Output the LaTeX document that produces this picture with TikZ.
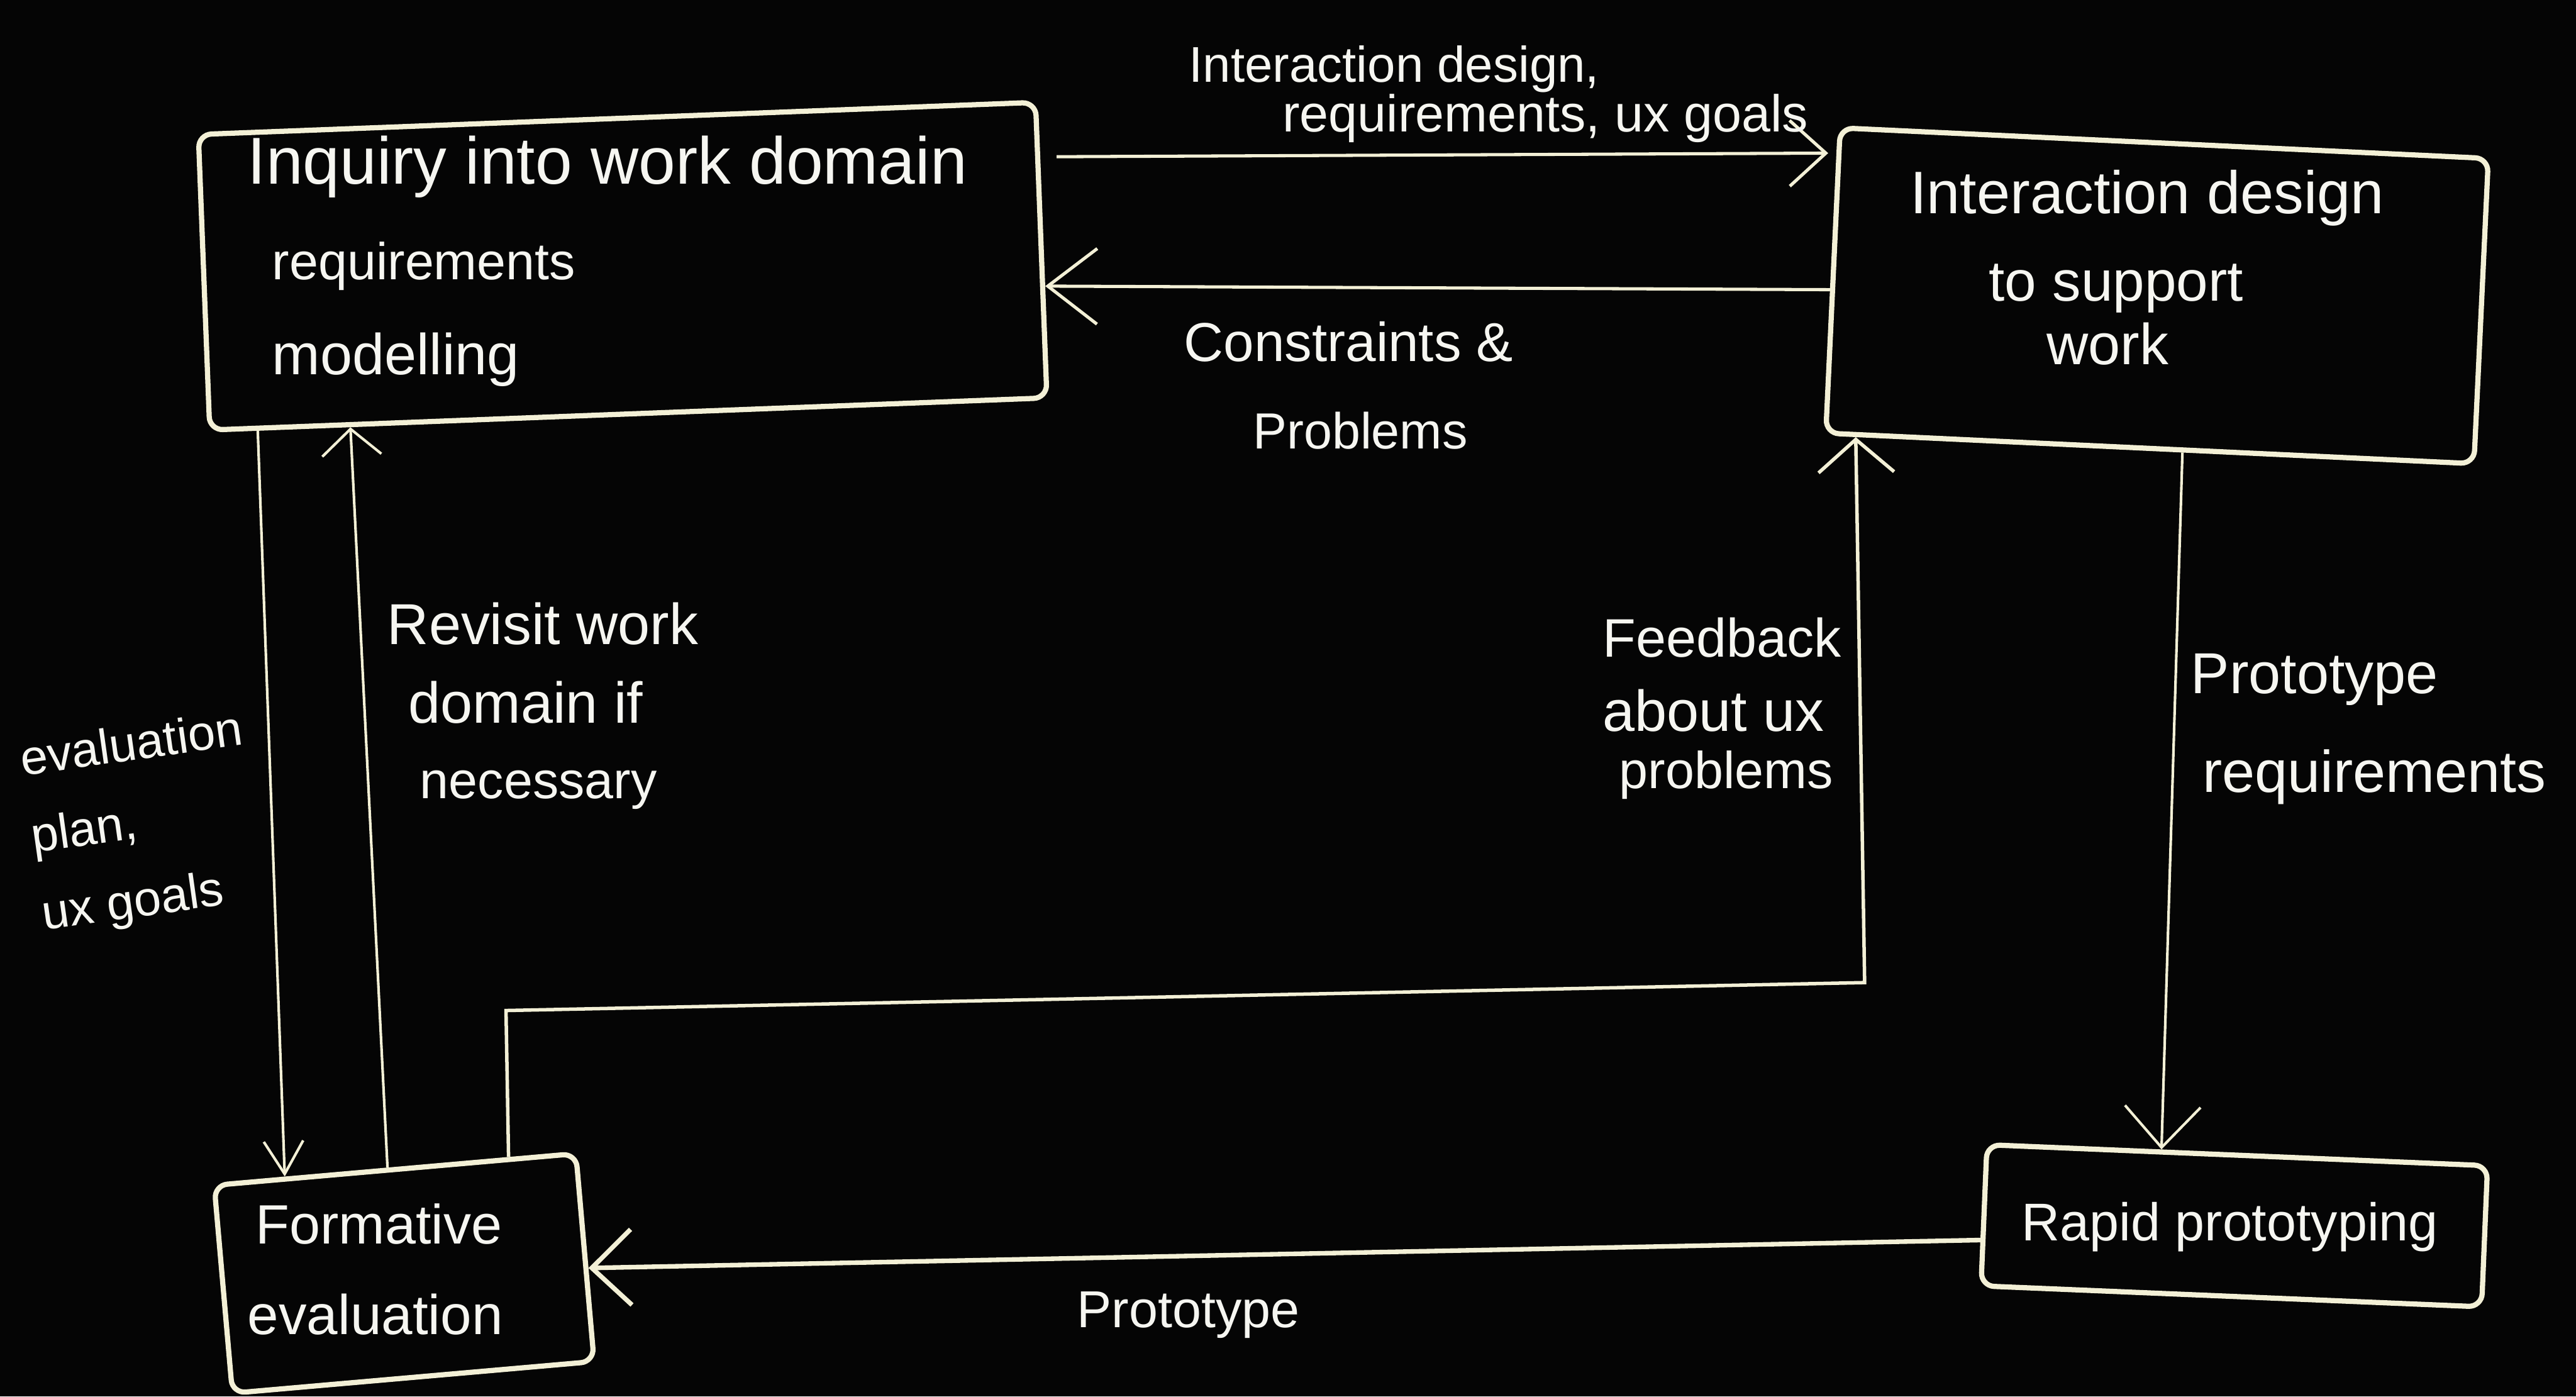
\documentclass[tikz,border=0pt]{standalone}
\usepackage{fontspec}
\setmainfont{Liberation Sans}
\usetikzlibrary{arrows.meta,calc}
\definecolor{board}{HTML}{050505}
\definecolor{chalk}{HTML}{F3F0D6}
\definecolor{ink}{HTML}{F6F6F1}
\newcommand{\fs}[1]{\fontsize{#1}{#1}\selectfont}
\begin{document}
\begin{tikzpicture}[x=0.1mm,y=-0.1mm,
  stagebox/.style={draw=chalk, line width=0.9pt, rounded corners=0.8mm, inner sep=0pt},
  flow/.style={draw=chalk, line width=0.55pt, -{Straight Barb[length=2.2mm,width=4mm]}},
  txt/.style={text=ink, inner sep=0pt, anchor=base west}]

% canvas
\fill[board] (0,0) rectangle (1568,850);
\useasboundingbox (0,0) rectangle (1568,850);

% stages
\node[stagebox, minimum width=51mm, minimum height=18mm, rotate=2.2] (b1) at (379,162) {};
\node[stagebox, minimum width=39.5mm, minimum height=18.6mm, rotate=-2.7] (b2) at (1313,180) {};
\node[stagebox, minimum width=22.1mm, minimum height=12.7mm, rotate=5] (b3) at (246,775) {};
\node[stagebox, minimum width=30.5mm, minimum height=8.6mm, rotate=-2.4] (b4) at (1360,746) {};

% stage texts
\node[txt, font=\fs{11.5}] (t1a) at (150,112) {Inquiry into work domain};
\node[txt, font=\fs{9}] (t1b) at (165,170) {requirements};
\node[txt, font=\fs{10}] (t1c) at (165,228) {modelling};

\node[txt, font=\fs{10.4}] (t2a) at (1162,130) {Interaction design};
\node[txt, font=\fs{9.9}] (t2b) at (1210,183) {to support};
\node[txt, font=\fs{10}] (t2c) at (1245,222) {work};

\node[txt, font=\fs{9.6}] (t3a) at (155,757) {Formative};
\node[txt, font=\fs{9.7}] (t3b) at (150,812) {evaluation};

\node[txt, font=\fs{9.2}] (t4) at (1230,755) {Rapid prototyping};

% connectors
\draw[flow, shorten <=1mm, shorten >=0.5mm]
  ($(b1.north east)!0.19!(b1.south east)$) -- ($(b2.north west)!0.09!(b2.south west)$);
\draw[flow, -{Straight Barb[length=3mm,width=4.6mm]}]
  ($(b2.north west)!0.53!(b2.south west)$) -- ($(b1.north east)!0.62!(b1.south east)$);
\draw[flow, line width=0.45pt, -{Straight Barb[length=2mm,width=2.4mm]}]
  ($(b1.south west)!0.06!(b1.south east)$) -- ($(b3.north west)!0.2!(b3.north east)$);
\draw[flow, line width=0.45pt, -{Straight Barb[length=1.6mm,width=3.6mm]}]
  ($(b3.north west)!0.48!(b3.north east)$) -- ($(b1.south west)!0.17!(b1.south east)$);
\coordinate (fb1) at (308,615);
\coordinate (fb2) at (1135,598);
\draw[flow, line width=0.6pt, -{Straight Barb[length=2mm,width=4.6mm]}]
  ($(b3.north west)!0.81!(b3.north east)$) -- (fb1) -- (fb2) -- ($(b2.south west)!0.05!(b2.south east)$);
\draw[flow, line width=0.45pt, -{Straight Barb[length=2.5mm,width=4.6mm]}]
  ($(b2.south west)!0.55!(b2.south east)$) -- ($(b4.north west)!0.35!(b4.north east)$);
\draw[flow, line width=0.8pt, -{Straight Barb[length=2.4mm,width=4.6mm]}]
  ($(b4.north west)!0.67!(b4.south west)$) -- ($(b3.north east)!0.55!(b3.south east)$);

% connector labels
\node[txt, font=\fs{8.7}] (l1a) at (723,50) {Interaction design,};
\node[txt, font=\fs{9}] (l1b) at (780,80) {requirements, ux goals};

\node[txt, font=\fs{9.5}] (l2a) at (720,220) {Constraints \&};
\node[txt, font=\fs{8.8}] (l2b) at (762,273) {Problems};

\node[text=ink, inner sep=0pt, anchor=north west, rotate=8, align=left,
      font=\fontsize{8.5}{13.5}\selectfont] (l3) at (10,450) {evaluation\\plan,\\ux goals};

\node[txt, font=\fs{10}] (l4a) at (235,392) {Revisit work};
\node[txt, font=\fs{10}] (l4b) at (248,440) {domain if};
\node[txt, font=\fs{9}] (l4c) at (255,486) {necessary};

\node[txt, font=\fs{9.4}] (l5a) at (975,400) {Feedback};
\node[txt, font=\fs{10}] (l5b) at (975,445) {about ux};
\node[txt, font=\fs{9}] (l5c) at (985,480) {problems};

\node[txt, font=\fs{10}] (l6a) at (1333,422) {Prototype};
\node[txt, font=\fs{10.2}] (l6b) at (1340,482) {requirements};

\node[txt, font=\fs{9}] (l7) at (655,808) {Prototype};
\end{tikzpicture}
\end{document}
